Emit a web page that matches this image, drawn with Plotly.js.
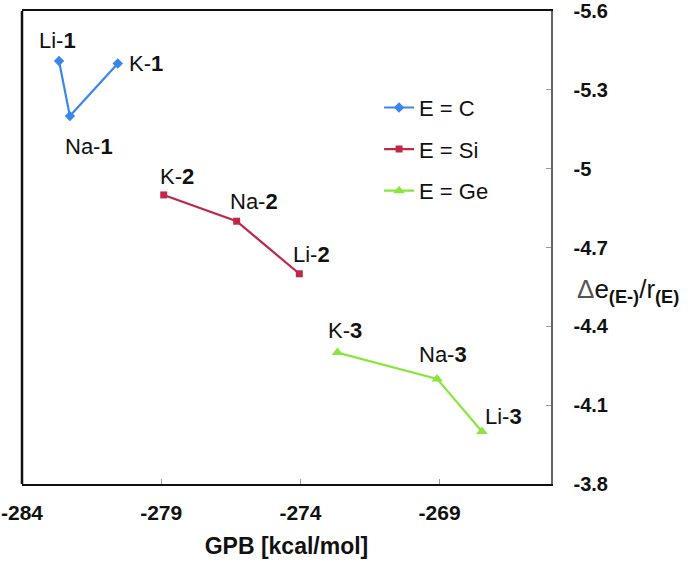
<!DOCTYPE html>
<html><head><meta charset="utf-8">
<script src="https://cdn.plot.ly/plotly-3.0.1.min.js"></script>
<style>html,body{margin:0;padding:0;background:#fff;}#chart{width:692px;height:563px;}</style>
</head><body><div id="chart"></div>
<script>
// Data
const seriesNames = ["E = C", "E = Si", "E = Ge"];
const labelsC  = ["Li-1", "Na-1", "K-1"];
const gpbC     = [-282.67, -282.28, -280.56];
const deC      = [-5.41, -5.20, -5.40];
const labelsSi = ["K-2", "Na-2", "Li-2"];
const gpbSi    = [-278.91, -276.29, -274.04];
const deSi     = [-4.90, -4.80, -4.60];
const labelsGe = ["K-3", "Na-3", "Li-3"];
const gpbGe    = [-272.67, -269.09, -267.48];
const deGe     = [-4.30, -4.20, -4.00];
const xTicks = [-284, -279, -274, -269];
const yTicks = [-5.6, -5.3, -5.0, -4.7, -4.4, -4.1, -3.8];
const yTickText = ["-5.6", "-5.3", "-5", "-4.7", "-4.4", "-4.1", "-3.8"];

// Styles
const FONT = "Liberation Sans, Arial, sans-serif";
const colors = ["#3a86ee", "#c0284a", "#88e63c"];
const symbols = ["diamond", "square", "triangle-up"];
const msizes = [8, 7, 10];
// label offsets (pixels) per point, in series order
const shiftsC  = [[-2, 20], [19, -30], [28, 0]];
const shiftsSi = [[13, 18], [17, 20], [12, 19]];
const shiftsGe = [[8, 22], [6, 24], [22, 15]];

const xs = [gpbC, gpbSi, gpbGe];
const ys = [deC, deSi, deGe];
const labs = [labelsC, labelsSi, labelsGe];
const shifts = [shiftsC, shiftsSi, shiftsGe];

const traces = seriesNames.map((n, i) => ({
  x: xs[i], y: ys[i], name: n, type: "scatter", mode: "lines+markers",
  legendgroup: "g" + i,
  line: {color: colors[i], width: 2.2},
  marker: {color: colors[i], symbol: symbols[i], size: msizes[i]}
}));

const annotations = [];
labs.forEach((arr, i) => {
  arr.forEach((lab, j) => {
    const parts = lab.split("-");
    annotations.push({
      x: xs[i][j], y: ys[i][j], xref: "x", yref: "y",
      text: parts[0] + "-<b>" + parts[1] + "</b>",
      showarrow: false, xshift: shifts[i][j][0], yshift: shifts[i][j][1],
      font: {family: FONT, size: 22, color: "#111"}
    });
  });
});
annotations.push({
  xref: "paper", yref: "paper", x: 1.045, y: 0.41, xanchor: "left", yanchor: "middle",
  showarrow: false,
  text: "<span style='color:#555'>Δ</span>e<sub><b>(E-)</b></sub>/r<sub><b>(E)</b></sub>",
  font: {family: FONT, size: 26, color: "#111"}
});

const layout = {
  width: 692, height: 563,
  margin: {l: 22, r: 141, t: 11, b: 79},
  paper_bgcolor: "#fff", plot_bgcolor: "#fff",
  showlegend: true,
  legend: {
    x: 0.675, y: 0.84, xanchor: "left", yanchor: "top",
    bgcolor: "rgba(0,0,0,0)", traceorder: "grouped", tracegroupgap: 10,
    font: {family: FONT, size: 22, color: "#111"},
    itemwidth: 30
  },
  xaxis: {
    range: [-284, -265], tickvals: xTicks, ticktext: xTicks.map(String),
    showgrid: false, zeroline: false,
    showline: true, linecolor: "#111", linewidth: 2, mirror: true,
    ticks: "inside", ticklen: 5, tickcolor: "#999", tickwidth: 1,
    ticklabelstandoff: 9,
    tickfont: {family: FONT, size: 21, color: "#111", weight: "bold"},
    title: {text: "GPB [kcal/mol]", standoff: 15,
      font: {family: FONT, size: 23, color: "#111", weight: "bold"}}
  },
  yaxis: {
    range: [-3.8, -5.6], side: "right", tickvals: yTicks, ticktext: yTickText,
    showgrid: false, zeroline: false,
    showline: true, linecolor: "#666", linewidth: 1.5,
    ticks: "inside", ticklen: 5, tickcolor: "#999", tickwidth: 1,
    ticklabelstandoff: 17,
    tickfont: {family: FONT, size: 20, color: "#111", weight: "bold"}
  },
  shapes: [{type: "line", xref: "paper", yref: "paper", x0: 0, x1: 0, y0: 0, y1: 1,
    line: {color: "#111", width: 2.5}}],
  annotations: annotations
};

Plotly.newPlot("chart", traces, layout, {displayModeBar: false, staticPlot: true});
</script>
</body></html>
